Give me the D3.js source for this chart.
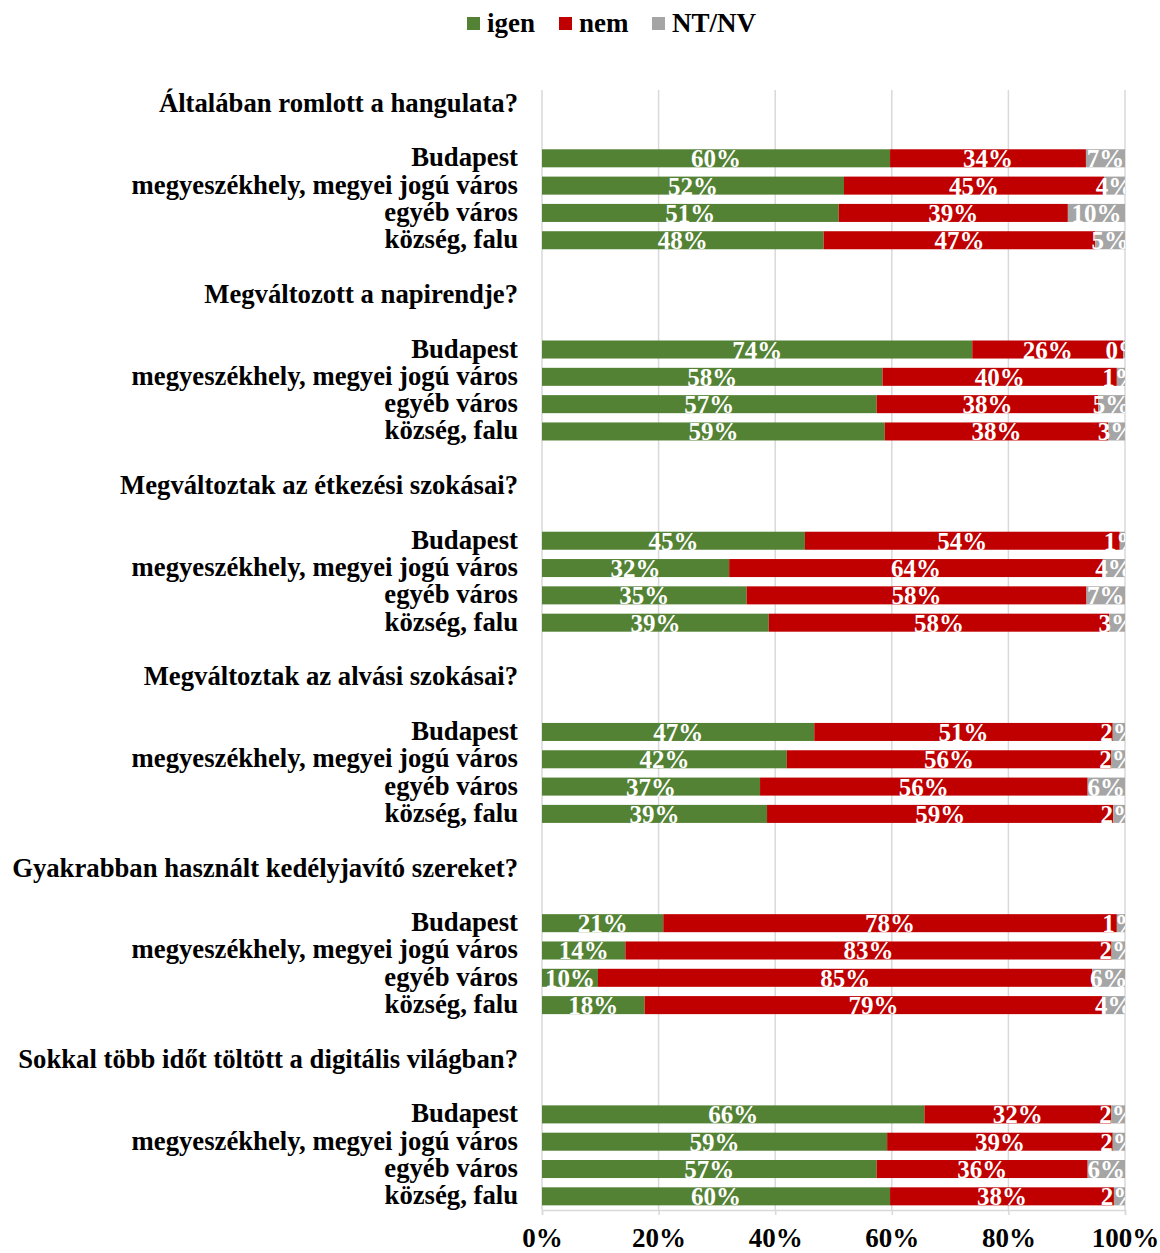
<!DOCTYPE html>
<meta charset="utf-8">
<head>
    <title>Kérdések településtípus szerint</title>
    <style>
        body { margin: 0; background: #fff; }
        svg text { font-family: "Liberation Serif", "Times New Roman", serif; font-weight: bold; }
    </style>
</head>
<body>
<svg width="1160" height="1253"></svg>
<script src="https://d3js.org/d3.v7.min.js"></script>
<script>

    // questions (group titles) and settlement types
    var questions = [
        "Általában romlott a hangulata?",
        "Megváltozott a napirendje?",
        "Megváltoztak az étkezési szokásai?",
        "Megváltoztak az alvási szokásai?",
        "Gyakrabban használt kedélyjavító szereket?",
        "Sokkal több időt töltött a digitális világban?"
    ];
    var places = ["Budapest", "megyeszékhely, megyei jogú város", "egyéb város", "község, falu"];

    // series values, 4 per question in places order (percent)
    var igen = [59.7, 51.8, 50.9, 48.3,
                73.8, 58.4, 57.4, 58.8,
                45.1, 32.1, 35.1, 38.9,
                46.7, 42.0, 37.4, 38.6,
                20.8, 14.3, 9.6, 17.6,
                65.6, 59.2, 57.4, 59.7];
    var nem = [33.6, 44.6, 39.3, 46.6,
               25.9, 40.2, 38.0, 38.3,
               54.0, 64.1, 58.3, 58.4,
               51.2, 55.6, 56.2, 59.4,
               77.8, 83.4, 84.8, 78.5,
               32.0, 38.7, 36.2, 38.4];
    var ntnv = [6.7, 3.6, 9.8, 5.1,
                0.3, 1.4, 4.6, 2.9,
                0.9, 3.8, 6.6, 2.7,
                2.1, 2.4, 6.4, 2.0,
                1.4, 2.3, 5.6, 3.9,
                2.4, 2.1, 6.4, 1.9];

    var seriesNames = ["igen", "nem", "NT/NV"];
    var seriesColors = ["#548235", "#C00000", "#A5A5A5"];
    var tickValues = [0, 20, 40, 60, 80, 100];

    var svg = d3.select("svg");
    var margin = {top: 90, left: 542, right: 35, bottom: 43};
    var width = +svg.attr("width"), height = +svg.attr("height");

    // build the rows: title, blank, 4 bars, blank (none after last group)
    var rows = [];
    questions.forEach(function(q, qi) {
        rows.push({type: "title", label: q});
        rows.push({type: "blank", label: ""});
        places.forEach(function(p, pi) {
            var k = qi * 4 + pi;
            rows.push({type: "bar", label: p, values: [igen[k], nem[k], ntnv[k]]});
        });
        if (qi < questions.length - 1) rows.push({type: "blank", label: ""});
    });

    var x = d3.scaleLinear().domain([0, 100]).range([margin.left, width - margin.right]);
    var y = d3.scaleBand()
            .domain(d3.range(rows.length))
            .range([margin.top, height - margin.bottom])
            .paddingInner(0.34)
            .paddingOuter(0.17);
    var color = d3.scaleOrdinal().domain(seriesNames).range(seriesColors);

    // gridlines
    svg.append("g")
            .selectAll("line")
            .data(tickValues)
            .enter().append("line")
            .attr("x1", function(d) { return x(d); })
            .attr("x2", function(d) { return x(d); })
            .attr("y1", margin.top)
            .attr("y2", height - margin.bottom)
            .attr("stroke", "#d9d9d9")
            .attr("stroke-width", 1.5);

    // axis at the bottom
    var axis = svg.append("g")
            .attr("transform", "translate(0," + (height - margin.bottom) + ")")
            .call(d3.axisBottom(x).tickValues(tickValues).tickSize(5).tickPadding(13)
                    .tickFormat(function(d) { return d + "%"; }));
    axis.select(".domain").attr("stroke", "#d9d9d9").attr("stroke-width", 1.5);
    axis.selectAll(".tick line").attr("stroke", "#d9d9d9").attr("stroke-width", 1.5);
    axis.selectAll(".tick text")
            .attr("font-size", 27)
            .attr("fill", "#000")
            .style("font-family", "'Liberation Serif', 'Times New Roman', serif")
            .style("font-weight", "bold");

    // stacked segments
    var segs = [];
    rows.forEach(function(r, i) {
        if (r.type !== "bar") return;
        var acc = 0;
        r.values.forEach(function(v, si) {
            segs.push({row: i, series: seriesNames[si], x0: acc, x1: acc + v, v: v});
            acc += v;
        });
    });

    svg.append("g")
            .selectAll("rect")
            .data(segs)
            .enter().append("rect")
            .attr("x", function(d) { return x(d.x0); })
            .attr("width", function(d) { return x(d.x1) - x(d.x0); })
            .attr("y", function(d) { return y(d.row); })
            .attr("height", y.bandwidth())
            .attr("fill", function(d) { return color(d.series); });

    // labels, clipped to the plot area like in the original
    svg.append("clipPath").attr("id", "plotclip")
            .append("rect")
            .attr("x", margin.left).attr("y", 0)
            .attr("width", x(100) - margin.left).attr("height", height);

    svg.append("g")
            .attr("clip-path", "url(#plotclip)")
            .selectAll("text")
            .data(segs)
            .enter().append("text")
            .attr("x", function(d) { return (x(d.x0) + x(d.x1)) / 2; })
            .attr("y", function(d) { return y(d.row) + y.bandwidth() / 2 + 9; })
            .attr("text-anchor", "middle")
            .attr("font-size", 25)
            .attr("fill", "#fff")
            .text(function(d) { return Math.round(d.v) + "%"; });

    // category labels on the left
    svg.append("g")
            .selectAll("text")
            .data(rows)
            .enter().append("text")
            .attr("x", 518)
            .attr("y", function(d, i) { return y(i) + y.bandwidth() / 2 + 8; })
            .attr("text-anchor", "end")
            .attr("font-size", 26.7)
            .attr("fill", "#000")
            .text(function(d) { return d.label; });

    // legend at the top
    var legend = svg.append("g").attr("transform", "translate(467,0)");
    var lx = [0, 92, 185];
    seriesNames.forEach(function(s, i) {
        legend.append("rect")
                .attr("x", lx[i]).attr("y", 17)
                .attr("width", 13).attr("height", 13)
                .attr("fill", color(s));
        legend.append("text")
                .attr("x", lx[i] + 20).attr("y", 32)
                .attr("font-size", 27)
                .attr("fill", "#000")
                .text(s);
    });
</script>
</body>
